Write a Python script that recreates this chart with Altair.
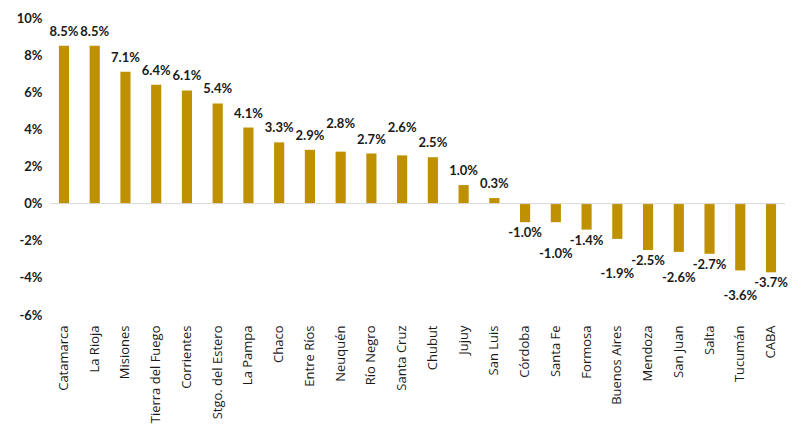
import altair as alt
import pandas as pd

provinces = ["Catamarca", "La Rioja", "Misiones", "Tierra del Fuego", "Corrientes",
             "Stgo. del Estero", "La Pampa", "Chaco", "Entre Ríos", "Neuquén",
             "Río Negro", "Santa Cruz", "Chubut", "Jujuy", "San Luis", "Córdoba",
             "Santa Fe", "Formosa", "Buenos Aires", "Mendoza", "San Juan", "Salta",
             "Tucumán", "CABA"]
values = [0.085, 0.085, 0.071, 0.064, 0.061, 0.054, 0.041, 0.033, 0.029, 0.028,
          0.027, 0.026, 0.025, 0.010, 0.003, -0.010, -0.010, -0.014, -0.019,
          -0.025, -0.026, -0.027, -0.036, -0.037]
y_ticks = [-0.06, -0.04, -0.02, 0.0, 0.02, 0.04, 0.06, 0.08, 0.10]

df = pd.DataFrame({"prov": provinces, "val": values})

FONT = "Lato"
GOLD = "#BF9000"
YSCALE = alt.Scale(domain=[-0.06, 0.10], nice=False, zero=False)
XSCALE = alt.Scale(paddingInner=0.67, paddingOuter=0.29)

XAXIS = alt.Axis(labelAngle=-90, labelAlign="right", labelBaseline="middle",
                 labelPadding=10, ticks=False, domain=False, labelLimit=300,
                 labelFont="Open Sans", labelFontSize=13, labelColor="#1a1a1a")
YAXIS = alt.Axis(values=y_ticks, grid=False, ticks=False, labelOverlap=False,
                 labelExpr="replace(format(datum.value, '.0%'), '\u2212', '-')",
                 domain=False, labelFont=FONT, labelFontWeight="bold",
                 labelFontSize=13, labelColor="#1a1a1a", labelPadding=8)

x = alt.X("prov:N", sort=provinces, title=None, scale=XSCALE, axis=XAXIS)
y = alt.Y("val:Q", title=None, scale=YSCALE, axis=YAXIS)

base = (alt.Chart(df)
        .transform_window(idx="row_number()")
        .transform_window(nmin="min(val)", nmax="max(val)", frame=[-1, 1])
        .transform_calculate(lab="replace(format(datum.val, '.1%'), '\u2212', '-')"))

zero = alt.Chart(pd.DataFrame({"val": [0.0]})).mark_rule(color="#d9d9d9", strokeWidth=1).encode(
    y=y
)

bars = base.mark_bar(color=GOLD).encode(x=x, y=y)

txt = dict(font=FONT, fontWeight="bold", fontSize=13, color="#1a1a1a")
enc = dict(x=x, y=y, text="lab:N")

raise_cond = "datum.idx % 2 == 0 && datum.nmax - datum.nmin < 0.008"

pos = base.transform_filter(f"datum.val >= 0 && !({raise_cond})").mark_text(
    baseline="bottom", dy=-7, **txt).encode(**enc)
pos_up = base.transform_filter(f"datum.val >= 0 && ({raise_cond})").mark_text(
    baseline="bottom", dy=-19, **txt).encode(
    x=x, y=alt.Y("nmax:Q", title=None, scale=YSCALE, axis=YAXIS), text="lab:N")

neg_a = base.transform_filter("datum.val < 0 && datum.idx % 2 == 0").mark_text(
    baseline="top", dy=5, **txt).encode(**enc)
neg_b = base.transform_filter("datum.val < 0 && datum.idx % 2 == 1").mark_text(
    baseline="top", dy=18, **txt).encode(
    x=x, y=alt.Y("nmin:Q", title=None, scale=YSCALE, axis=YAXIS), text="lab:N")

chart = alt.layer(bars, zero, pos, pos_up, neg_a, neg_b).properties(
    width=735, height=297,
    autosize=alt.AutoSizeParams(type="none"),
    padding={"left": 42, "top": 10, "right": 7, "bottom": 117},
    background="white"
).configure_view(stroke=None)

chart.save("out.html", embed_options={"renderer": "svg", "actions": False})
